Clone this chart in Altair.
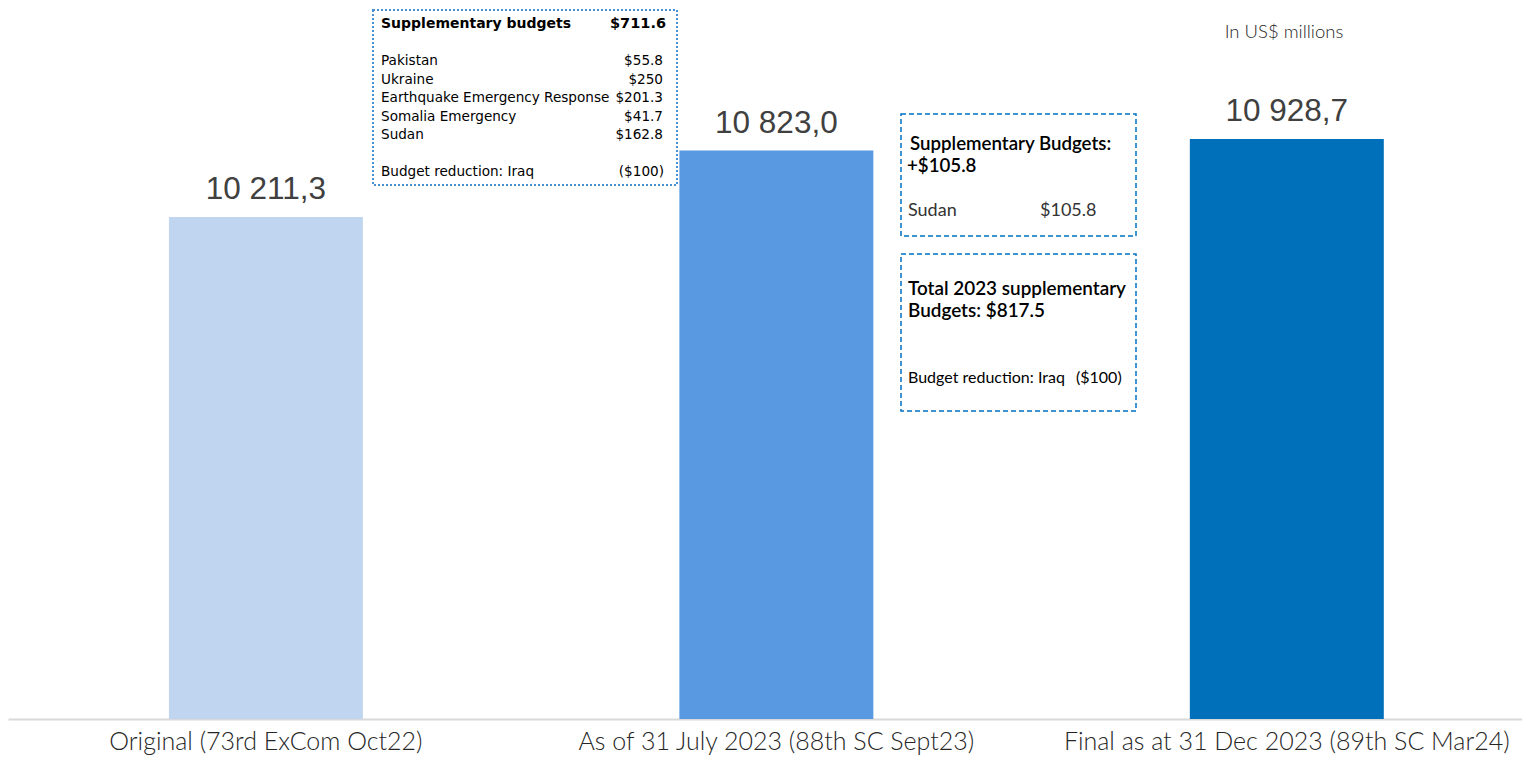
import altair as alt
import pandas as pd

# ---- data ----
categories = [
    "Original (73rd ExCom Oct22)",
    "As of 31 July 2023 (88th SC Sept23)",
    "Final as at 31 Dec 2023 (89th SC Mar24)",
]
values = [10211.3, 10823.0, 10928.7]
value_labels = ["10 211,3", "10 823,0", "10 928,7"]
bar_colors = ["#C0D6F0", "#5899E2", "#0070BB"]

unit_note = "In US$ millions"

box1_title = ["Supplementary budgets", "$711.6"]
box1_items = ["Pakistan", "Ukraine", "Earthquake Emergency Response", "Somalia  Emergency", "Sudan"]
box1_amounts = ["$55.8", "$250", "$201.3", "$41.7", "$162.8"]
box1_reduction = ["Budget reduction:  Iraq", "($100)"]

box2_title = ["Supplementary Budgets:", "+$105.8"]
box2_item = ["Sudan", "$105.8"]

box3_title = ["Total 2023 supplementary", "Budgets: $817.5"]
box3_reduction = ["Budget reduction: Iraq", "($100)"]

df = pd.DataFrame({"cat": categories, "value": values, "label": value_labels})

Y_MIN, Y_MAX = 5584, 12137
LABEL_FONT = "Lato"
BOX1_FONT = "DejaVu Sans"

x_enc = alt.X(
    "cat:N",
    sort=categories,
    scale=alt.Scale(paddingInner=0.62, paddingOuter=0.293, align=0.538),
    axis=alt.Axis(
        title=None,
        labelAngle=0,
        labelFontSize=25,
        labelFont=LABEL_FONT,
        labelFontWeight=300,
        labelColor="#262626",
        labelPadding=10,
        ticks=False,
        domainColor="#D9D9D9",
        domainWidth=2,
        labelLimit=600,
    ),
)
y_enc = alt.Y("value:Q", scale=alt.Scale(domain=[Y_MIN, Y_MAX], zero=False, nice=False), axis=None)

bars = alt.Chart(df).mark_bar().encode(
    x=x_enc,
    y=y_enc,
    y2=alt.datum(Y_MIN),
    color=alt.Color("cat:N", scale=alt.Scale(domain=categories, range=bar_colors), legend=None),
)

labels = alt.Chart(df).mark_text(
    dy=-18, baseline="alphabetic", fontSize=31.5, font="Liberation Sans", color="#404040"
).encode(x=alt.X("cat:N", sort=categories), y=alt.Y("value:Q"), text="label:N")


def txt(s, x, y, size, font, weight="normal", align="left", color="#000000"):
    return alt.Chart(pd.DataFrame({"t": [s]})).mark_text(
        align=align, baseline="middle", fontSize=size, font=font, fontWeight=weight, color=color
    ).encode(x=alt.value(x), y=alt.value(y), text="t:N")


def box(x1, x2, y1, y2, color, dash, width):
    return alt.Chart(pd.DataFrame({"a": [0]})).mark_rect(
        filled=False, stroke=color, strokeDash=dash, strokeWidth=width
    ).encode(x=alt.value(x1), x2=alt.value(x2), y=alt.value(y1), y2=alt.value(y2))


layers = [bars, labels]

# unit note
layers.append(txt(unit_note, 1276, 24, 18.5, LABEL_FONT, weight=300, align="center", color="#262626"))

# box 1 (dotted)
layers.append(box(365, 669, 2, 177, "#4A90D0", [2, 2], 2))
layers.append(txt(box1_title[0], 373, 16, 14, BOX1_FONT, weight="bold"))
layers.append(txt(box1_title[1], 658, 16, 14.5, BOX1_FONT, weight="bold", align="right"))
row_y = [53, 72, 90, 109, 127]
for name, amt, yy in zip(box1_items, box1_amounts, row_y):
    layers.append(txt(name, 373, yy, 13.6, BOX1_FONT))
    layers.append(txt(amt, 655, yy, 13.6, BOX1_FONT, align="right"))
layers.append(txt(box1_reduction[0], 373, 164, 13.6, BOX1_FONT))
layers.append(txt(box1_reduction[1], 656, 164, 13.6, BOX1_FONT, align="right"))

# box 2 (dashed)
layers.append(box(893, 1128, 106, 228, "#0070C0", [5, 3], 1.5))
layers.append(txt(box2_title[0], 902, 136, 18.7, LABEL_FONT, weight=600))
layers.append(txt(box2_title[1], 899, 158, 18.7, LABEL_FONT, weight=600))
layers.append(txt(box2_item[0], 900, 203, 18, LABEL_FONT, color="#333333"))
layers.append(txt(box2_item[1], 1032, 203, 18, LABEL_FONT, color="#333333"))

# box 3 (dashed)
layers.append(box(893, 1128, 246, 403, "#0070C0", [5, 3], 1.5))
layers.append(txt(box3_title[0], 900, 281, 18.9, LABEL_FONT, weight=600))
layers.append(txt(box3_title[1], 900, 303, 18.9, LABEL_FONT, weight=600))
layers.append(txt(box3_reduction[0], 900, 370, 16, LABEL_FONT))
layers.append(txt(box3_reduction[1], 1068, 370, 16, LABEL_FONT))

chart = (
    alt.layer(*layers)
    .properties(
        width=1514,
        height=711,
        background="white",
        autosize=alt.AutoSizeParams(type="none"),
        padding={"left": 0, "top": 0, "right": 0, "bottom": 36},
    )
    .configure_view(stroke="transparent", strokeWidth=0)
)

chart.save("out.html", embed_options={"renderer": "svg", "actions": False})
